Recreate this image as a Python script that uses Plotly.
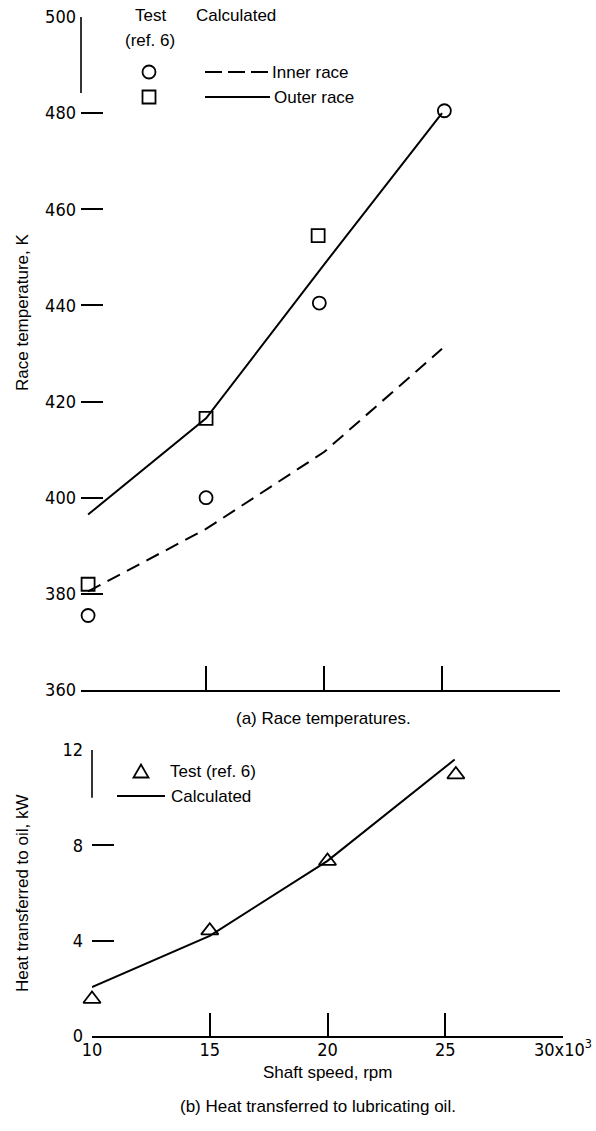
import plotly.graph_objects as go

# ---------------- data ----------------
speed_calc = [10, 15, 20, 25]
inner_calc = [380.5, 393.5, 409.5, 431.0]
outer_calc = [396.5, 416.5, 448.5, 480.0]

inner_test_speed = [10, 15, 19.8, 25.1]
inner_test = [375.5, 400.0, 440.5, 480.5]
outer_test_speed = [10, 15, 19.75, 25.05]
outer_test = [382.0, 416.5, 454.5, 500.5]

heat_test_speed = [10, 15, 20, 25.45]
heat_test = [1.55, 4.42, 7.34, 10.97]
heat_calc_speed = [10, 15, 20, 25.4]
heat_calc = [2.05, 4.2, 7.35, 11.6]

temp_ticks = [360, 380, 400, 420, 440, 460, 480, 500]
heat_ticks = [0, 4, 8, 12]
speed_ticks = [10, 15, 20, 25, 30]
speed_ticktext = ["10", "15", "20", "25", "30x10<sup>3</sup>"]

# ---------------- layout helpers ----------------
W, H = 596, 1131
def px(x):
    return x / W
def py(y):
    return 1 - y / H

NUM_FONT = dict(family="Liberation Sans Narrow, DejaVu Sans Condensed, Arial Narrow, sans-serif", size=18, color="black")
TXT_FONT = dict(family="Liberation Sans, Arial, Helvetica, sans-serif", size=17, color="black")
BLACK = "black"

fig = go.Figure()

# ---- top panel: race temperatures ----
fig.add_trace(go.Scatter(x=speed_calc, y=outer_calc, mode="lines",
                         line=dict(color=BLACK, width=2), xaxis="x", yaxis="y",
                         showlegend=False, hoverinfo="skip"))
fig.add_trace(go.Scatter(x=speed_calc, y=inner_calc, mode="lines",
                         line=dict(color=BLACK, width=2, dash="14px,8px"), xaxis="x", yaxis="y",
                         showlegend=False, hoverinfo="skip"))
fig.add_trace(go.Scatter(x=inner_test_speed, y=inner_test, mode="markers",
                         marker=dict(symbol="circle-open", size=13, color=BLACK, line=dict(width=1.8)),
                         xaxis="x", yaxis="y", cliponaxis=False, showlegend=False))
fig.add_trace(go.Scatter(x=outer_test_speed, y=outer_test, mode="markers",
                         marker=dict(symbol="square-open", size=13, color=BLACK, line=dict(width=1.8)),
                         xaxis="x", yaxis="y", cliponaxis=False, showlegend=False))

# ---- bottom panel: heat to oil ----
fig.add_trace(go.Scatter(x=heat_calc_speed, y=heat_calc, mode="lines",
                         line=dict(color=BLACK, width=2), xaxis="x2", yaxis="y2",
                         showlegend=False, hoverinfo="skip"))
fig.add_trace(go.Scatter(x=heat_test_speed, y=heat_test, mode="markers",
                         marker=dict(symbol="triangle-up-open", size=15, color=BLACK, line=dict(width=1.8)),
                         xaxis="x2", yaxis="y2", cliponaxis=False, showlegend=False))

top_x_dom = [px(81), px(560)]
top_y_dom = [py(690), py(17)]
bot_x_dom = [px(92), px(563)]
bot_y_dom = [py(1036), py(750)]

fig.update_layout(
    template="none",
    width=W, height=H,
    margin=dict(l=0, r=0, t=0, b=0, pad=0, autoexpand=False),
    paper_bgcolor="white", plot_bgcolor="white",
    showlegend=False,
    xaxis=dict(domain=top_x_dom, range=[9.70, 30], anchor="y", automargin=False,
               showgrid=False, zeroline=False, showline=True, linecolor=BLACK, linewidth=1.6,
               tickmode="array", tickvals=[15, 20, 25, 30], ticks="inside", ticklen=24,
               tickwidth=1.6, tickcolor=BLACK, showticklabels=False),
    yaxis=dict(domain=top_y_dom, range=[360, 500], anchor="x", automargin=False,
               showgrid=False, zeroline=False, showline=False,
               tickmode="array", tickvals=temp_ticks, ticks="inside", ticklen=22,
               tickwidth=1.6, tickcolor=BLACK, tickfont=NUM_FONT, ticklabelstandoff=4),
    xaxis2=dict(domain=bot_x_dom, range=[10, 30], anchor="y2", automargin=False,
                showgrid=False, zeroline=False, showline=True, linecolor=BLACK, linewidth=1.6,
                tickmode="array", tickvals=[15, 20, 25, 30], ticks="inside", ticklen=23,
                tickwidth=1.6, tickcolor=BLACK, showticklabels=False),
    xaxis3=dict(domain=bot_x_dom, range=[10, 30], anchor="y2", overlaying="x2", side="bottom",
                automargin=False,
                showgrid=False, zeroline=False, showline=False, ticks="",
                tickmode="array", tickvals=speed_ticks, ticktext=speed_ticktext,
                tickfont=NUM_FONT, ticklabelstandoff=1),
    yaxis2=dict(domain=bot_y_dom, range=[0, 12], anchor="x2", automargin=False,
                showgrid=False, zeroline=False, showline=False,
                tickmode="array", tickvals=heat_ticks, ticks="inside", ticklen=22,
                tickwidth=1.6, tickcolor=BLACK, tickfont=NUM_FONT, ticklabelstandoff=8),
)

# invisible trace to activate xaxis3
fig.add_trace(go.Scatter(x=[10, 30], y=[0, 0], xaxis="x3", yaxis="y2", mode="lines",
                         line=dict(width=0, color="rgba(0,0,0,0)"), showlegend=False, hoverinfo="skip"))

shapes = []
# partial y-axis brackets
shapes.append(dict(type="line", xref="x domain", yref="y", x0=0, x1=0, y0=484.2, y1=500,
                   line=dict(color=BLACK, width=1.6)))
shapes.append(dict(type="line", xref="x2 domain", yref="y2", x0=0, x1=0, y0=10.0, y1=12,
                   line=dict(color=BLACK, width=1.6)))

# top legend keys
r = 6.5
shapes.append(dict(type="circle", xref="paper", yref="paper",
                   x0=px(149 - r), x1=px(149 + r), y0=py(72 + r), y1=py(72 - r),
                   line=dict(color=BLACK, width=1.8)))
shapes.append(dict(type="rect", xref="paper", yref="paper",
                   x0=px(149 - r), x1=px(149 + r), y0=py(97 + r), y1=py(97 - r),
                   line=dict(color=BLACK, width=1.8)))
shapes.append(dict(type="line", xref="paper", yref="paper",
                   x0=px(205), x1=px(269), y0=py(72), y1=py(72),
                   line=dict(color=BLACK, width=1.8, dash="17px,6px")))
shapes.append(dict(type="line", xref="paper", yref="paper",
                   x0=px(205), x1=px(270), y0=py(97), y1=py(97),
                   line=dict(color=BLACK, width=1.8)))
# bottom legend keys
tx, ty, th = 141, 771, 13
shapes.append(dict(type="path", xref="paper", yref="paper",
                   path=f"M {px(tx-7.5)} {py(ty+th/2)} L {px(tx+7.5)} {py(ty+th/2)} L {px(tx)} {py(ty-th/2)} Z",
                   line=dict(color=BLACK, width=1.8)))
shapes.append(dict(type="line", xref="paper", yref="paper",
                   x0=px(117), x1=px(165), y0=py(796), y1=py(796),
                   line=dict(color=BLACK, width=1.8)))

fig.update_layout(shapes=shapes)

ann = []
def text(t, x, y, xanchor="center", font=TXT_FONT, angle=0):
    ann.append(dict(text=t, x=px(x), y=py(y), xref="paper", yref="paper",
                    xanchor=xanchor, yanchor="middle", showarrow=False,
                    font=font, textangle=angle))

text("Test", 150, 15)
text("(ref. 6)", 150, 41)
text("Calculated", 194, 15, xanchor="left")
text("Inner race", 270, 72, xanchor="left")
text("Outer race", 272, 97, xanchor="left")
text("Test (ref. 6)", 168, 771, xanchor="left")
text("Calculated", 169, 796, xanchor="left")
text("Race temperature, K", 22, 312, angle=-90)
text("Heat transferred to oil, kW", 22, 894, angle=-90)
text("(a) Race temperatures.", 323, 718)
text("Shaft speed, rpm", 327, 1072)
text("(b) Heat transferred to lubricating oil.", 318, 1106)

fig.update_layout(annotations=ann)

fig.write_html("out.html")
